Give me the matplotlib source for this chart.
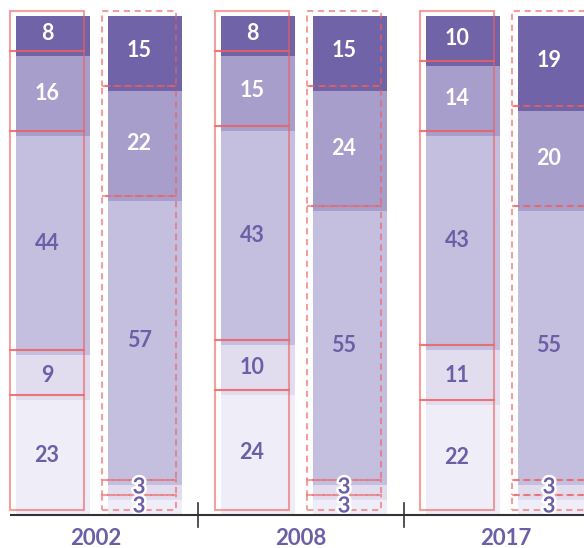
import matplotlib
matplotlib.use('Agg')
import matplotlib.pyplot as plt
import matplotlib.patheffects as pe
from matplotlib.patches import Rectangle

years = ["2002", "2008", "2017"]
# shares per segment, top to bottom
left_bars = [
    [8, 16, 44, 9, 23],
    [8, 15, 43, 10, 24],
    [10, 14, 43, 11, 22],
]
right_bars = [
    [15, 22, 57, 3, 3],
    [15, 24, 55, 3, 3],
    [19, 20, 55, 3, 3],
]

shades = ['#7063a7', '#a89ecc', '#c5bfdf', '#e1ddef', '#efedf7']
purple = '#6c5fa7'
red = '#ee5f5f'

fig = plt.figure(figsize=(5.84, 5.48), dpi=100)
ax = fig.add_axes([0, 0, 1, 1])
ax.set_xlim(-0.483, 2.366)
ax.set_ylim(-6.61, 103.2)
ax.axis('off')

W = 0.361      # bar width
OFF = 0.2244   # half gap between bars of a pair
DX, DY = -0.029, 1.0   # shift of the outline boxes


def draw_bar(xc, vals, dashed):
    top = 100
    for k, v in enumerate(vals):
        bottom = top - v
        ax.bar(xc, v, W, bottom=bottom, color=shades[k], linewidth=0, zorder=1)
        ls = (0, (3, 2.2)) if dashed else '-'
        ax.add_patch(Rectangle((xc - W / 2 + DX, bottom + DY), W, v, fill=False,
                               edgecolor=red, alpha=0.6, linewidth=1.5,
                               linestyle=ls, zorder=2))
        cy = bottom + v / 2 + DY - 0.5
        if v <= 3:
            # push the upper of two stacked small labels a bit higher
            if k + 1 < len(vals) and vals[k + 1] <= 3:
                cy += 0.8
            ax.text(xc + DX, cy - 0.2, str(v), ha='center', va='center',
                    fontsize=16, fontweight='bold', color=purple, family='Lato',
                    path_effects=[pe.withStroke(linewidth=3.5, foreground='white')],
                    zorder=4)
        else:
            col = 'white' if k < 2 else purple
            ax.text(xc + DX, cy, str(v), ha='center', va='center',
                    fontsize=15.5, fontweight='bold', color=col, family='Lato',
                    zorder=3)
        top = bottom


for i, y in enumerate(years):
    draw_bar(i - OFF, left_bars[i], False)
    draw_bar(i + OFF, right_bars[i], True)
    ax.text(i - 0.015, -4.8, y, ha='center', va='center', fontsize=16,
            fontweight='bold', color=purple, family='Lato')

# baseline and separators between years
ax.plot([-0.434, 2.366], [0, 0], color='#333333', linewidth=1.5, zorder=5,
        solid_capstyle='butt')
for sx in [0.483, 1.488]:
    ax.plot([sx, sx], [-2.5, 2.5], color='#333333', linewidth=1.2, zorder=5)

fig.savefig('out.png', dpi=100)
